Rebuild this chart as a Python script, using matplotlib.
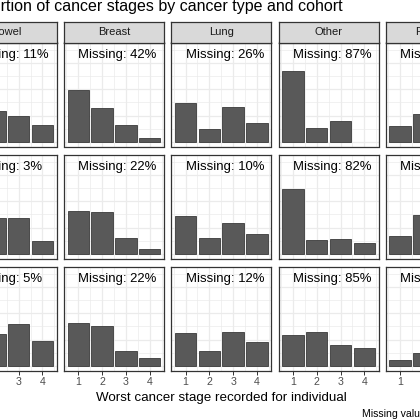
import matplotlib
matplotlib.use("Agg")
import matplotlib.pyplot as plt
from matplotlib.ticker import MultipleLocator

plt.rcParams["font.family"] = ["Liberation Sans", "DejaVu Sans"]

# --- data ---
cancer_types = ["Bowel", "Breast", "Lung", "Other", "Prostate"]
stages = [1, 2, 3, 4]

# proportion of each stage, one list per cohort row
bowel = [[0.30, 0.297, 0.243, 0.164],
         [0.20, 0.337, 0.340, 0.126],
         [0.06, 0.307, 0.395, 0.237]]
breast = [[0.49, 0.32, 0.155, 0.035],
          [0.405, 0.40, 0.15, 0.045],
          [0.41, 0.38, 0.137, 0.073]]
lung = [[0.37, 0.12, 0.335, 0.175],
        [0.355, 0.152, 0.297, 0.192],
        [0.31, 0.139, 0.322, 0.23]]
other = [[0.675, 0.13, 0.195, 0.0],
         [0.62, 0.135, 0.145, 0.10],
         [0.29, 0.325, 0.20, 0.17]]
prostate = [[0.148, 0.265, 0.33, 0.257],
            [0.167, 0.373, 0.28, 0.18],
            [0.054, 0.118, 0.45, 0.378]]

missing_bowel = [11, 3, 5]
missing_breast = [42, 22, 22]
missing_lung = [26, 10, 12]
missing_other = [87, 82, 85]
missing_prostate = [18, 9, 11]

props = [bowel, breast, lung, other, prostate]
missing = [missing_bowel, missing_breast, missing_lung, missing_other, missing_prostate]

# --- layout (pixels, top-left origin, on a 420x420 canvas) ---
W = H = 420.0
col_left0, col_pitch, panel_w = -43.3, 107.3, 100.0
row_top0, row_pitch, panel_h = 42.5, 112.0, 104.0
strip_top, strip_h = 22.0, 20.5


def rect(x0, y0, w, h):
    return [x0 / W, 1 - (y0 + h) / H, w / W, h / H]


fig = plt.figure(figsize=(4.2, 4.2), dpi=100)
fig.patch.set_facecolor("white")

border = "#333333"
n_rows = len(bowel)

for c, ctype in enumerate(cancer_types):
    x0 = col_left0 + c * col_pitch
    for r in range(n_rows):
        y0 = row_top0 + r * row_pitch
        ax = fig.add_axes(rect(x0, y0, panel_w, panel_h))
        vals = props[c][r]
        xs = [s for s, v in zip(stages, vals) if v > 0]
        hs = [v for v in vals if v > 0]
        ax.bar(xs, hs, width=0.9, color="#595959", edgecolor="#3a3a3a", linewidth=0.6)
        ax.text(1, 0.80, f"Missing: {missing[c][r]}%", ha="left", va="baseline",
                fontsize=9.45, color="black")
        ax.set_xlim(0.4, 4.6)
        ax.set_ylim(-0.045, 0.945)
        ax.set_axisbelow(True)
        ax.xaxis.set_major_locator(MultipleLocator(1))
        ax.xaxis.set_minor_locator(MultipleLocator(0.5))
        ax.yaxis.set_major_locator(MultipleLocator(0.25))
        ax.yaxis.set_minor_locator(MultipleLocator(0.125))
        ax.grid(which="major", color="#EBEBEB", linewidth=0.9)
        ax.grid(which="minor", color="#EBEBEB", linewidth=0.5)
        ax.tick_params(which="minor", length=0)
        ax.tick_params(axis="y", length=0, labelleft=False)
        if r == n_rows - 1:
            ax.tick_params(axis="x", length=3, width=0.7, color=border, pad=1.5,
                           labelsize=7.7, labelcolor="#4D4D4D")
        else:
            ax.tick_params(axis="x", length=0, labelbottom=False)
        for sp in ax.spines.values():
            sp.set_color(border)
            sp.set_linewidth(0.9)

    # column strip
    sax = fig.add_axes(rect(x0, strip_top, panel_w, strip_h))
    sax.set_facecolor("#D9D9D9")
    sax.set_xticks([])
    sax.set_yticks([])
    for sp in sax.spines.values():
        sp.set_color(border)
        sp.set_linewidth(0.9)
    sax.text(0.5, 0.5, ctype, transform=sax.transAxes, ha="center", va="center",
             fontsize=8, color="#1A1A1A")

fig.text(-42.4 / W, 1 - 11 / H, "Proportion of cancer stages by cancer type and cohort",
         ha="left", va="baseline", fontsize=11.5, color="black")
fig.text((col_left0 + (5 * col_pitch - 7.3) / 2) / W, 1 - 401 / H,
         "Worst cancer stage recorded for individual",
         ha="center", va="baseline", fontsize=9.65, color="black")
fig.text(361.7 / W, 1 - 417 / H, "Missing values excluded from proportions",
         ha="left", va="baseline", fontsize=7.6, color="black")

fig.savefig("out.png", dpi=100)
